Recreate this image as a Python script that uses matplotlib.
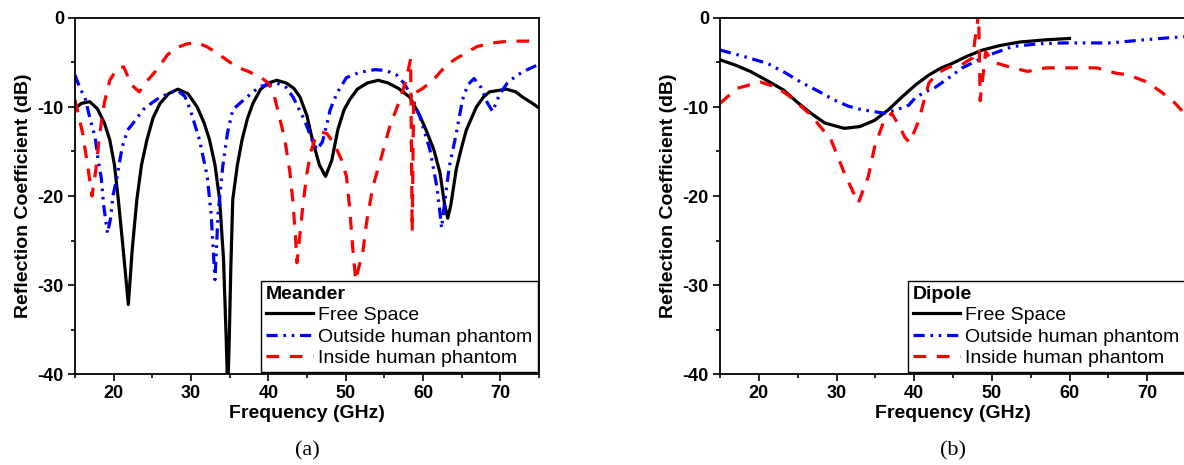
import numpy as np
import matplotlib
matplotlib.use('Agg')
import matplotlib.pyplot as plt
from matplotlib.ticker import MultipleLocator

plt.rcParams['font.family'] = ['Liberation Sans', 'DejaVu Sans']
plt.rcParams['axes.unicode_minus'] = False

# ---- (a) Meander ----
mea_free_f = [15, 15.8, 16.9, 17.9, 18.8, 19.5, 20.1, 20.6, 21.2, 21.9, 22.4, 23.0, 23.6, 24.3, 25.1, 26.0,
              27.1, 28.3, 29.6, 30.8, 31.7, 32.4, 33.1, 33.7, 34.2, 34.55, 34.75, 34.95, 35.15, 35.4, 36.0,
              36.6, 37.3, 38.0, 39.0, 40.0, 41.1, 42.3, 43.3, 44.1, 45.0, 45.7, 46.6, 47.4, 48.2, 49.0,
              49.8, 50.5, 51.5, 52.8, 54.2, 55.5, 56.8, 58.3, 59.6, 60.4, 61.4, 62.2, 62.8, 63.2, 63.6,
              64.3, 65.0, 65.6, 66.9, 67.8, 68.6, 70.8, 72.0, 72.9, 74.0, 75]
mea_free_s = [-10.2, -9.6, -9.4, -10.2, -11.8, -13.7, -16.5, -20.4, -25.7, -32.2, -26.0, -20.4, -16.5, -13.7,
              -11.2, -9.6, -8.5, -8.0, -8.5, -10.0, -11.8, -13.7, -16.5, -20.4, -27.0, -36.0, -42.0, -36.0,
              -28.0, -20.4, -16.5, -13.7, -11.3, -9.6, -8.0, -7.3, -7.0, -7.3, -7.9, -8.9, -11.0, -13.7,
              -16.5, -17.8, -16.0, -12.5, -10.3, -9.2, -8.0, -7.3, -7.0, -7.3, -7.9, -8.9, -11.0, -12.6,
              -14.8, -17.4, -21.0, -22.5, -21.0, -17.0, -14.5, -12.6, -10.0, -8.9, -8.3, -8.0, -8.3, -8.9,
              -9.5, -10.1]

mea_out_f = [15, 15.6, 16.3, 17.0, 17.6, 18.0, 18.4, 18.7, 19.2, 19.6, 19.9, 20.4, 21.1, 21.8, 22.8, 23.8,
             25.0, 26.0, 28.2, 29.2, 29.9, 31.1, 32.1, 32.6, 33.1, 33.5, 34.1, 34.7, 35.4, 37.2, 38.9, 41.1,
             42.3, 43.2, 44.4, 45.0, 45.8, 46.3, 47.0, 47.6, 48.0, 48.9, 50.1, 51.8, 53.8, 55.2, 56.6, 57.5,
             58.3, 59.6, 60.9, 61.8, 62.2, 62.4, 62.9, 63.4, 64.3, 65.1, 65.8, 66.6, 67.5, 68.3, 69.0, 69.9,
             70.9, 72.2, 73.5, 75]
mea_out_s = [-6.4, -7.8, -9.0, -11.5, -13.4, -16.0, -18.0, -21.0, -24.2, -22.5, -20.0, -18.0, -14.5, -12.6,
             -11.5, -10.3, -9.5, -8.9, -8.1, -8.8, -10.3, -13.7, -17.8, -22.0, -29.4, -22.0, -16.7, -13.0,
             -10.3, -8.9, -7.7, -7.3, -7.8, -8.9, -11.0, -12.2, -14.0, -14.8, -13.9, -11.8, -10.3, -8.4,
             -6.7, -6.1, -5.8, -5.9, -6.4, -7.3, -8.4, -11.1, -14.8, -19.0, -21.9, -23.6, -20.0, -16.7,
             -13.0, -9.2, -7.5, -6.8, -7.8, -9.5, -10.5, -8.6, -7.3, -6.4, -5.8, -5.2]

mea_in_f = [15, 16.0, 16.7, 17.2, 17.7, 18.2, 18.8, 19.5, 20.5, 21.3, 22.3, 23.3, 24.4, 25.6, 26.9, 27.9,
            29.5, 30.8, 32.0, 33.3, 34.6, 35.9, 37.4, 38.9, 40.0, 40.7, 41.2, 42.1, 42.8, 43.2, 43.5, 43.7,
            44.1, 44.5, 45.0, 45.5, 46.0, 46.8, 47.6, 48.6, 49.5, 50.1, 50.5, 50.9, 51.3, 51.7, 52.2, 52.7,
            53.5, 54.4, 55.7, 57.0, 57.8, 58.4, 58.6, 58.8, 59.8, 60.9, 61.9, 63.0, 64.4, 65.6, 67.0, 69.0,
            71.0, 73.4, 75]
mea_in_s = [-9.2, -13.0, -17.0, -20.0, -17.0, -13.0, -9.5, -7.0, -5.6, -5.5, -7.5, -8.3, -7.0, -5.8, -4.2,
            -3.4, -2.9, -2.8, -3.2, -3.9, -4.7, -5.5, -6.0, -6.6, -7.3, -8.5, -10.3, -13.5, -17.4, -20.8,
            -24.5, -27.5, -24.2, -20.8, -17.4, -15.0, -13.7, -12.8, -13.0, -14.3, -16.0, -17.8, -21.2,
            -25.7, -29.5, -28.0, -26.4, -23.0, -19.0, -16.3, -12.2, -9.2, -7.0, -4.6, -24.0, -8.5, -8.0,
            -7.3, -6.4, -5.3, -4.5, -3.9, -3.2, -2.8, -2.6, -2.6, -2.5]

# ---- (b) Dipole ----
dip_free_f = [15, 17, 18.9, 21, 23.2, 25, 26.7, 28.5, 31, 33, 34.9, 36.7, 38.4, 40.2, 41.9, 43.5, 44.9, 46.8,
              48.8, 51, 53.6, 57, 60]
dip_free_s = [-4.7, -5.3, -6.0, -7.0, -8.1, -9.5, -10.7, -11.8, -12.4, -12.2, -11.5, -10.3, -8.9, -7.5, -6.4,
              -5.6, -5.1, -4.3, -3.6, -3.1, -2.7, -2.45, -2.3]

dip_out_f = [15, 18, 21.1, 23.3, 25.4, 27.6, 29.7, 31.5, 33.2, 36.2, 37.8, 39.3, 40.1, 41.4, 42.7, 44.5, 46.2,
             49.5, 52.7, 56, 59.2, 62, 65.3, 69, 73.1, 75]
dip_out_s = [-3.6, -4.3, -5.1, -6.1, -7.2, -8.2, -9.2, -9.9, -10.3, -10.7, -10.3, -9.8, -9.0, -8.3, -7.8, -6.7,
             -5.6, -4.2, -3.2, -2.9, -2.8, -2.8, -2.8, -2.5, -2.2, -2.1]

dip_in_f = [15, 17.2, 20.2, 22.4, 24.1, 26.7, 29.3, 31, 32.8, 34.1, 34.9, 36, 37.1, 38.0, 38.8, 39.4, 40.0,
            40.6, 41.2, 41.9, 43, 44.5, 46, 47.5, 48.3, 48.5, 49.2, 50.3, 52.7, 54.6, 57, 60, 63.5, 66,
            67.6, 70, 71.8, 73.4, 75]
dip_in_s = [-9.6, -7.9, -7.2, -7.8, -8.9, -10.9, -13.7, -17.4, -20.8, -17.8, -14.5, -11.8, -10.7, -12.0,
            -13.4, -14.0, -12.8, -11.5, -9.5, -7.3, -6.2, -5.5, -5.3, -4.5, 0.5, -9.3, -3.8, -5.0, -5.6,
            -6.0, -5.6, -5.6, -5.6, -6.2, -6.4, -7.2, -8.3, -9.4, -10.9]

labels = ['Free Space', 'Outside human phantom', 'Inside human phantom']
lw = 2.3
styles = [dict(color='black', linestyle='-'),
          dict(color='#0000ff', linestyle=(0, (3.5, 1.8, 0.8, 1.8, 0.8, 1.8))),
          dict(color='#ff0000', linestyle=(0, (4, 3.3)))]


def draw(ax, curves, title, caption):
	for (f, s), st, lab in zip(curves, styles, labels):
		ax.plot(f, s, lw=lw, label=lab, solid_joinstyle='round', **st)
	ax.set_xlim(15, 75)
	ax.set_ylim(-40, 0)
	ax.xaxis.set_major_locator(MultipleLocator(10))
	ax.xaxis.set_minor_locator(MultipleLocator(5))
	ax.yaxis.set_major_locator(MultipleLocator(10))
	ax.yaxis.set_minor_locator(MultipleLocator(5))
	ax.tick_params(which='both', direction='out', top=False, right=False, width=1.2)
	ax.tick_params(which='major', length=5, labelsize=13, pad=3)
	ax.tick_params(which='minor', length=3)
	for t in ax.get_xticklabels() + ax.get_yticklabels():
		t.set_fontweight('bold')
	for sp in ax.spines.values():
		sp.set_linewidth(1.3)
	ax.set_xlabel('Frequency (GHz)', fontsize=14, fontweight='bold', labelpad=2)
	ax.set_ylabel('Reflection Coefficient (dB)', fontsize=14, fontweight='bold', labelpad=4)
	leg = ax.legend(title=title, loc='lower right', bbox_to_anchor=(0.997, 0.006), borderaxespad=0,
		fontsize=14, title_fontproperties={'weight': 'bold', 'size': 14}, alignment='left',
		fancybox=False, framealpha=1, edgecolor='black', handlelength=2.4, handletextpad=0.3,
		labelspacing=0.2, borderpad=0.25)
	leg.get_frame().set_linewidth(1.0)
	ax.text(0.5, -0.215, caption, transform=ax.transAxes, ha='center', va='center',
		fontsize=16, family='Liberation Serif')


fig = plt.figure(figsize=(11.84, 4.65), dpi=100)
ax1 = fig.add_axes([75 / 1184, 1 - 374 / 465, 464 / 1184, 356 / 465])
ax2 = fig.add_axes([720 / 1184, 1 - 374 / 465, 466 / 1184, 356 / 465])

draw(ax1, [(mea_free_f, mea_free_s), (mea_out_f, mea_out_s), (mea_in_f, mea_in_s)], 'Meander', '(a)')
draw(ax2, [(dip_free_f, dip_free_s), (dip_out_f, dip_out_s), (dip_in_f, dip_in_s)], 'Dipole', '(b)')

fig.savefig('out.png', dpi=100)
